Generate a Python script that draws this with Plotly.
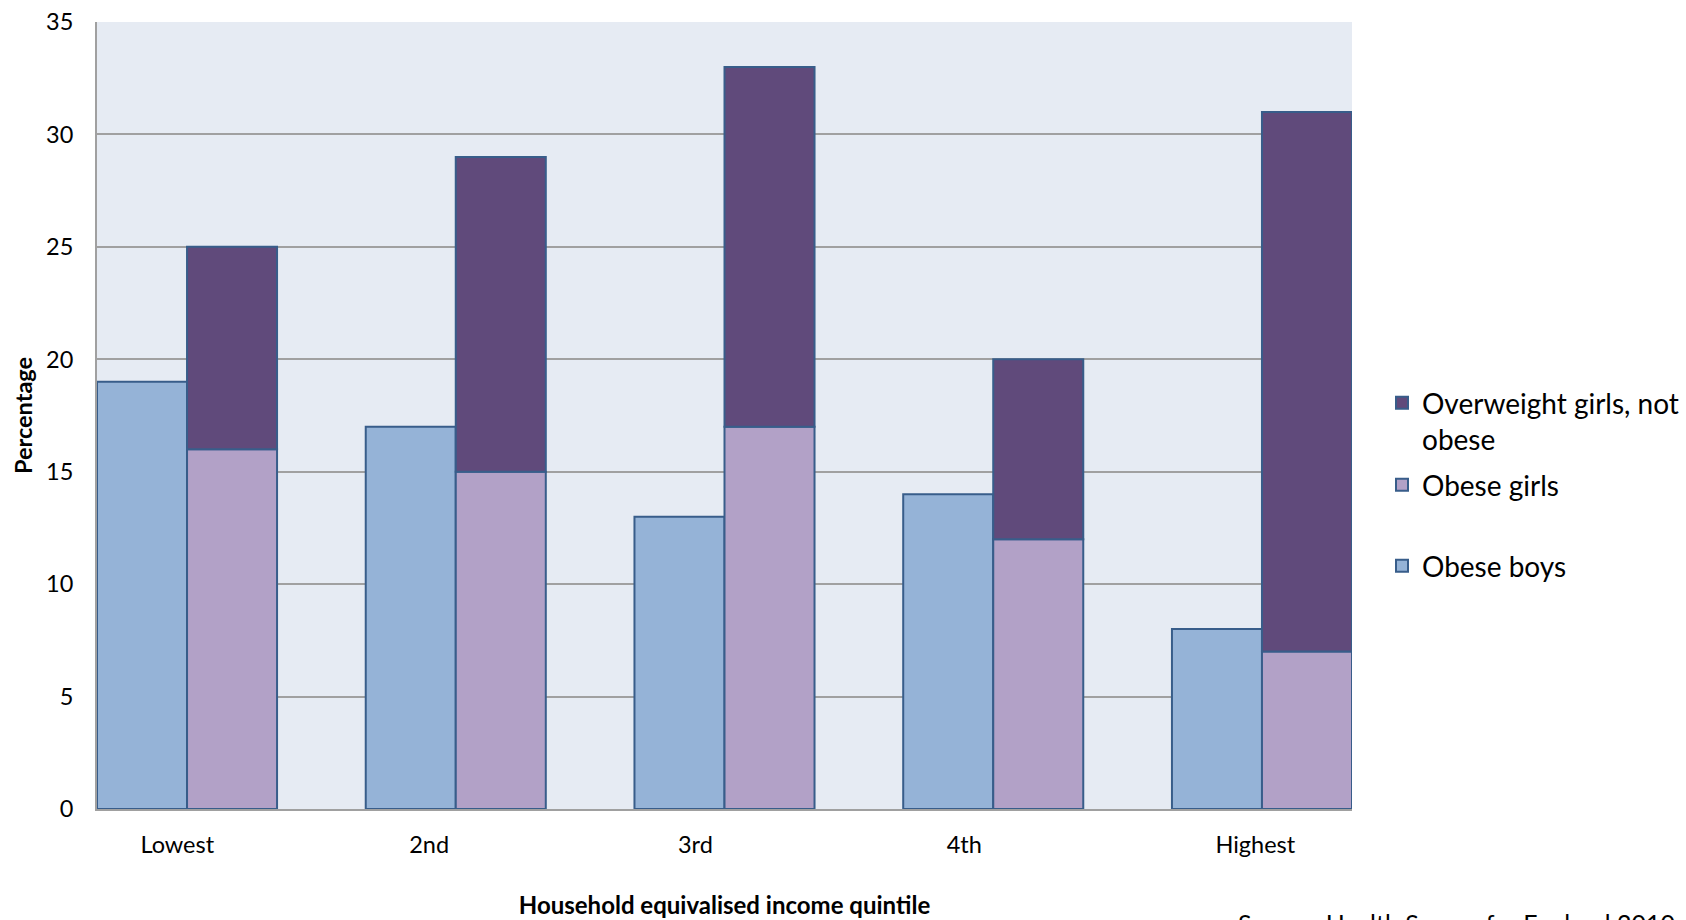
import plotly.graph_objects as go

# Household equivalised income quintiles
quintiles = ["Lowest", "2nd", "3rd", "4th", "Highest"]

# Percentages
obese_boys = [19, 17, 13, 14, 8]
obese_girls = [16, 15, 17, 12, 7]
overweight_girls_not_obese = [9, 14, 16, 8, 24]

y_ticks = [0, 5, 10, 15, 20, 25, 30, 35]

BAR_W = 0.335        # bar width in category units
LABEL_SHIFT = 0.177  # category labels start a little left of each group centre
EDGE = "#385D8A"
FONT = "Lato"

positions = list(range(len(quintiles)))
label_positions = [p - LABEL_SHIFT for p in positions]

fig = go.Figure()

fig.add_trace(go.Bar(
    x=positions, y=obese_boys, name="Obese boys",
    width=BAR_W, offset=-BAR_W,
    marker=dict(color="#95B3D7", line=dict(color=EDGE, width=2)),
    legend="legend3",
))
fig.add_trace(go.Bar(
    x=positions, y=obese_girls, name="Obese girls",
    width=BAR_W, offset=0,
    marker=dict(color="#B2A1C7", line=dict(color=EDGE, width=2)),
    legend="legend2",
))
fig.add_trace(go.Bar(
    x=positions, y=overweight_girls_not_obese, base=obese_girls,
    name="Overweight girls, not<br>obese",
    width=BAR_W, offset=0,
    marker=dict(color="#604A7B", line=dict(color=EDGE, width=2)),
    legend="legend",
))

PLOT_L, PLOT_R, PLOT_T, PLOT_B = 97, 1352, 22, 809
W, H = 1686, 920


def px_x(px):
    return (px - PLOT_L) / (PLOT_R - PLOT_L)


def px_y(py):
    return (PLOT_B - py) / (PLOT_B - PLOT_T)


legend_common = dict(
    font=dict(family=FONT, size=28, color="#000000"),
    bgcolor="rgba(0,0,0,0)", borderwidth=0,
    xanchor="left", yanchor="middle", valign="top",
    x=px_x(1382),
)

tick_font = dict(family=FONT, size=23.5, color="#000000")
title_font = dict(family=FONT, size=23.5, color="#000000")

fig.update_layout(
    width=W, height=H,
    margin=dict(l=PLOT_L, r=W - PLOT_R, t=PLOT_T, b=H - PLOT_B, autoexpand=False),
    paper_bgcolor="white",
    plot_bgcolor="#E6EBF3",
    barmode="overlay",
    showlegend=True,
    font=dict(family=FONT, color="#000000"),
    legend=dict(legend_common, y=px_y(421)),
    legend2=dict(legend_common, y=px_y(485)),
    legend3=dict(legend_common, y=px_y(566)),
    xaxis=dict(
        range=[-BAR_W, len(quintiles) - 1 + BAR_W],
        tickmode="array", tickvals=label_positions, ticktext=quintiles,
        ticklabelposition="outside right",
        showgrid=False, zeroline=False,
        showline=True, linecolor="#A0A0A0", linewidth=2,
        ticks="", ticklabelstandoff=14,
        tickfont=tick_font,
        title=dict(text="<b>Household equivalised income quintile</b>",
                   font=dict(family=FONT, size=24, color="#000000"),
                   standoff=40),
        fixedrange=True,
    ),
    yaxis=dict(
        range=[0, 35], tickmode="array", tickvals=y_ticks,
        showgrid=True, gridcolor="#A0A0A0", gridwidth=1.5,
        zeroline=False,
        showline=True, linecolor="#A0A0A0", linewidth=2,
        ticks="", ticklabelstandoff=17,
        tickfont=tick_font,
        title=dict(text="<b>Percentage</b>", font=title_font, standoff=7),
        fixedrange=True,
    ),
    annotations=[dict(
        text="Source: Health Survey for England 2010",
        xref="paper", yref="paper",
        x=px_x(1236), y=px_y(906),
        xanchor="left", yanchor="top",
        showarrow=False,
        font=dict(family=FONT, size=25, color="#000000"),
    )],
)

fig.write_html("out.html")
